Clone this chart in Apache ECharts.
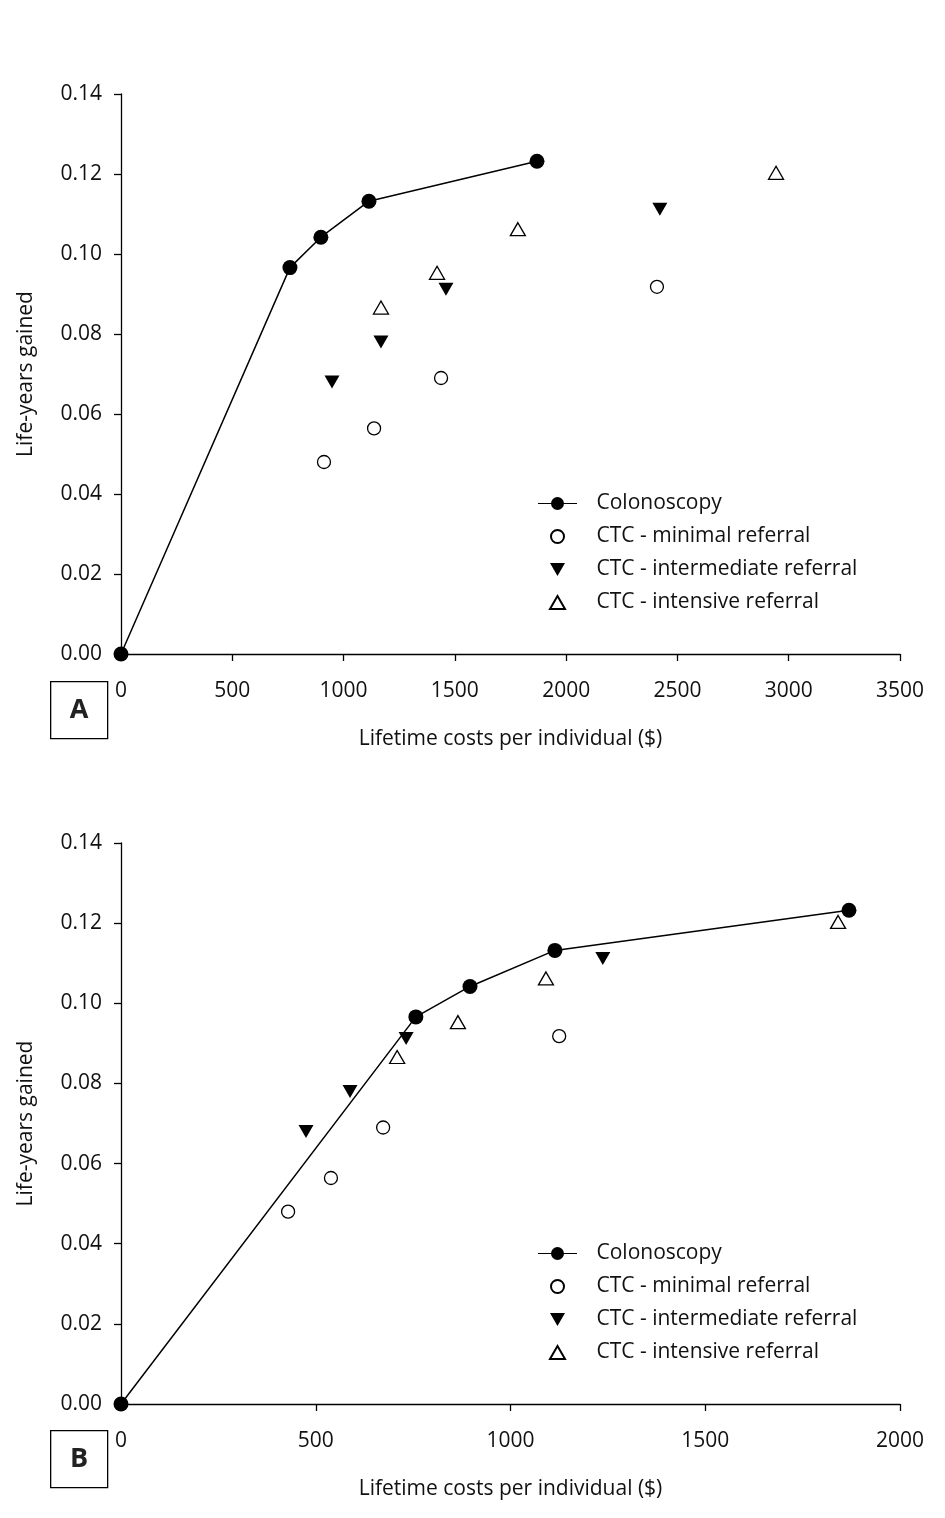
<!DOCTYPE html>
<html>
<head>
<meta charset="utf-8">
<script src="https://cdn.jsdelivr.net/npm/echarts@6/dist/echarts.min.js"></script>
<style>
  html, body { margin: 0; padding: 0; background: #ffffff; }
  #chart { width: 945px; height: 1518px; }
</style>
</head>
<body>
<div id="chart"></div>
<script>
// Panel A: costs vs life-years gained, [cost, LYG]
const colonoscopyA = [[0, 0], [759, 0.0966], [898, 0.1042], [1114, 0.1132], [1869, 0.1232]];
const ctcMinimalA = [[912, 0.0480], [1137, 0.0564], [1438, 0.0690], [2408, 0.0918]];
const ctcIntermediateA = [[948, 0.0680], [1168, 0.0780], [1460, 0.0912], [2421, 0.1112]];
const ctcIntensiveA = [[1168, 0.0866], [1420, 0.0953], [1783, 0.1062], [2943, 0.1203]];

// Panel B
const colonoscopyB = [[0, 0], [757, 0.0966], [896, 0.1042], [1114, 0.1132], [1869, 0.1232]];
const ctcMinimalB = [[429, 0.0480], [539, 0.0564], [673, 0.0690], [1125, 0.0918]];
const ctcIntermediateB = [[475, 0.0680], [588, 0.0780], [732, 0.0912], [1237, 0.1112]];
const ctcIntensiveB = [[709, 0.0866], [865, 0.0953], [1091, 0.1062], [1841, 0.1203]];

const seriesNames = ['Colonoscopy', 'CTC - minimal referral', 'CTC - intermediate referral', 'CTC - intensive referral'];
const panelLabels = ['A', 'B'];
const xMaxA = 3500;
const xMaxB = 2000;

const FONT = 'Open Sans';
const FS = 21;
const INK = '#000000';
const TXT = '#111111';
const triDown = 'path://M0,0 L10,0 L5,8.66 Z';
const triUp = 'path://M5,0 L10,8.66 L0,8.66 Z';
// legend key for the connected series: short line with a dot in the middle
const lineDot = 'path://M0,6.4 L42,6.4 L42,7.6 L0,7.6 Z M14,7 A7,7 0 1 1 28,7 A7,7 0 1 1 14,7 Z';

function xAxis(gi, max) {
  return {
    type: 'value', gridIndex: gi, min: 0, max: max, interval: 500,
    name: 'Lifetime costs per individual ($)', nameLocation: 'middle', nameGap: 75,
    nameTextStyle: { fontFamily: FONT, fontSize: FS, color: TXT },
    axisLine: { lineStyle: { color: INK, width: 1.3 } },
    axisTick: { show: true, inside: false, length: 7, lineStyle: { color: INK, width: 1.3 } },
    axisLabel: { fontFamily: FONT, fontSize: FS, color: TXT, margin: 27, formatter: v => String(v) },
    splitLine: { show: false }
  };
}
function yAxis(gi) {
  return {
    type: 'value', gridIndex: gi, min: 0, max: 0.14, interval: 0.02,
    name: 'Life-years gained', nameLocation: 'middle', nameGap: 84, nameRotate: 90,
    nameTextStyle: { fontFamily: FONT, fontSize: FS, color: TXT },
    axisLine: { show: true, lineStyle: { color: INK, width: 1.3 } },
    axisTick: { show: true, inside: false, length: 7, lineStyle: { color: INK, width: 1.3 } },
    axisLabel: { fontFamily: FONT, fontSize: FS, color: TXT, margin: 19, formatter: v => v.toFixed(2) },
    splitLine: { show: false }
  };
}
function panelSeries(gi, colo, mini, inter, inten) {
  return [
    { name: seriesNames[0], type: 'line', xAxisIndex: gi, yAxisIndex: gi, data: colo,
      symbol: 'circle', symbolSize: 15, clip: false, showSymbol: true,
      lineStyle: { color: INK, width: 1.5 }, itemStyle: { color: INK, opacity: 1 }, z: 3 },
    { name: seriesNames[1], type: 'scatter', xAxisIndex: gi, yAxisIndex: gi, data: mini,
      symbol: 'circle', symbolSize: 13, clip: false,
      itemStyle: { color: '#ffffff', borderColor: INK, borderWidth: 1.3, opacity: 1 } },
    { name: seriesNames[2], type: 'scatter', xAxisIndex: gi, yAxisIndex: gi, data: inter,
      symbol: triDown, symbolSize: [15, 13], clip: false,
      itemStyle: { color: INK, opacity: 1 } },
    { name: seriesNames[3], type: 'scatter', xAxisIndex: gi, yAxisIndex: gi, data: inten,
      symbol: triUp, symbolSize: [15, 13], clip: false,
      itemStyle: { color: '#ffffff', borderColor: INK, borderWidth: 1.3, opacity: 1 } }
  ];
}
function legend(top) {
  return {
    data: [
      { name: seriesNames[0], icon: lineDot },
      { name: seriesNames[1] },
      { name: seriesNames[2] },
      { name: seriesNames[3] }
    ],
    orient: 'vertical', left: 533, top: top,
    itemWidth: 42, itemHeight: 13, itemGap: 12,
    textStyle: { fontFamily: FONT, fontSize: FS, color: TXT, padding: [0, 0, 0, 13] },
    selectedMode: false
  };
}
function labelBox(text, top) {
  return { type: 'group', left: 50, top: top, children: [
    { type: 'rect', shape: { x: 0, y: 0, width: 57, height: 57 },
      style: { fill: '#ffffff', stroke: INK, lineWidth: 1.3 } },
    { type: 'text', style: { text: text, x: 28.5, y: 29, align: 'center', verticalAlign: 'middle',
      fontFamily: FONT, fontWeight: 'bold', fontSize: 27, fill: '#222222' } }
  ] };
}

const chart = echarts.init(document.getElementById('chart'), null, { renderer: 'canvas' });
chart.setOption({
  backgroundColor: '#ffffff',
  animation: false,
  grid: [
    { left: 121, top: 94, width: 779, height: 560 },
    { left: 121, top: 843, width: 779, height: 561 }
  ],
  xAxis: [xAxis(0, xMaxA), xAxis(1, xMaxB)],
  yAxis: [yAxis(0), yAxis(1)],
  legend: [legend(488), legend(1238)],
  series: [
    ...panelSeries(0, colonoscopyA, ctcMinimalA, ctcIntermediateA, ctcIntensiveA),
    ...panelSeries(1, colonoscopyB, ctcMinimalB, ctcIntermediateB, ctcIntensiveB)
  ],
  graphic: [labelBox(panelLabels[0], 681), labelBox(panelLabels[1], 1430)]
});
</script>
</body>
</html>
